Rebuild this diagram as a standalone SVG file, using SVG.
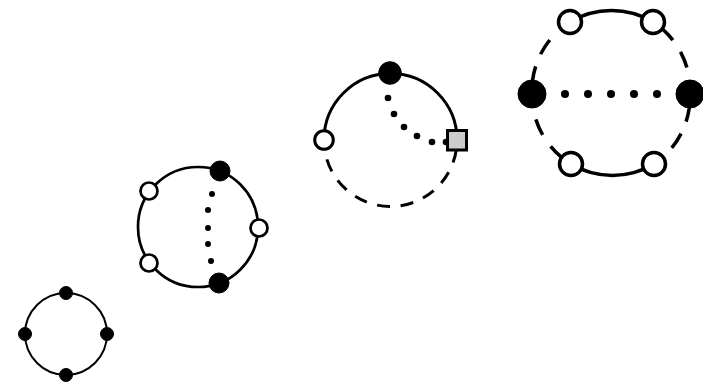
<svg xmlns="http://www.w3.org/2000/svg" width="703" height="386" viewBox="0 0 703 386">
<style>
.bg{fill:#fff}
.ln{fill:none;stroke:#000}
.filled{fill:#000;stroke:#000}
.open{fill:#fff;stroke:#000}
.sq{fill:#ccc;stroke:#000}
.dot{fill:#000}
</style>
<rect class="bg" x="0" y="0" width="703" height="386"/>
<g id="connectors">
  <circle class="ln" cx="66" cy="334" r="41" stroke-width="2"/>
  <circle class="ln" cx="198" cy="227" r="60" stroke-width="2.7"/>
  <g class="dot">
    <circle cx="212" cy="194" r="3"/><circle cx="208" cy="210" r="3"/><circle cx="208" cy="228" r="3"/><circle cx="208" cy="244" r="3"/><circle cx="211" cy="261" r="3"/>
  </g>
  <path class="ln" d="M324,140 A66.5,66.5 0 0 1 457,140" stroke-width="3"/>
  <path class="ln" d="M457,140 A66.5,66.5 0 0 1 324,140" stroke-width="3" stroke-dasharray="13 10.7" stroke-dashoffset="13.7"/>
  <g class="dot">
    <circle cx="388" cy="98" r="3.3"/><circle cx="394" cy="114" r="3.3"/><circle cx="404" cy="127" r="3.3"/><circle cx="417" cy="136" r="3.3"/><circle cx="432" cy="142" r="3.3"/><circle cx="446" cy="142" r="3.3"/>
  </g>
  <path class="ln" d="M570,22 A81,81 0 0 1 653,22" stroke-width="3.5"/>
  <path class="ln" d="M654,164 A81,81 0 0 1 571,164" stroke-width="3.5"/>
  <path class="ln" d="M653,22 A81,81 0 0 1 690,94" stroke-width="3.5" stroke-dasharray="27 14 17 200"/>
  <path class="ln" d="M690,94 A81,81 0 0 1 654,164" stroke-width="3.5" stroke-dasharray="28 13 17 200"/>
  <path class="ln" d="M571,164 A81,81 0 0 1 532,94" stroke-width="3.5" stroke-dasharray="27 14 17 200"/>
  <path class="ln" d="M532,94 A81,81 0 0 1 570,22" stroke-width="3.5" stroke-dasharray="28 13 17 200"/>
  <g class="dot">
    <circle cx="565" cy="94" r="4"/><circle cx="588" cy="94" r="4"/><circle cx="611" cy="94" r="4"/><circle cx="634" cy="94" r="4"/><circle cx="657" cy="94" r="4"/>
  </g>
</g>
<g id="n1a"><circle class="filled" cx="66" cy="293" r="6.5"/></g>
<g id="n1b"><circle class="filled" cx="107" cy="334" r="6.5"/></g>
<g id="n1c"><circle class="filled" cx="66" cy="375" r="6.5"/></g>
<g id="n1d"><circle class="filled" cx="25" cy="334" r="6.5"/></g>
<g id="n2a"><circle class="filled" cx="220" cy="171" r="10"/></g>
<g id="n2b"><circle class="filled" cx="219" cy="283" r="10"/></g>
<g id="n2c"><circle class="open" cx="149" cy="191" r="8.5" stroke-width="2.7"/></g>
<g id="n2d"><circle class="open" cx="149" cy="263" r="8.5" stroke-width="2.7"/></g>
<g id="n2e"><circle class="open" cx="259" cy="228" r="8.5" stroke-width="2.7"/></g>
<g id="n3a"><circle class="filled" cx="390" cy="73" r="11.3"/></g>
<g id="n3b"><circle class="open" cx="324" cy="140" r="9.3" stroke-width="3"/></g>
<g id="n3c"><rect class="sq" x="447.5" y="130.5" width="19" height="19.5" stroke-width="3"/></g>
<g id="n4a"><circle class="open" cx="570" cy="22" r="11.5" stroke-width="3.5"/></g>
<g id="n4b"><circle class="open" cx="653" cy="22" r="11.5" stroke-width="3.5"/></g>
<g id="n4c"><circle class="open" cx="571" cy="164" r="11.5" stroke-width="3.5"/></g>
<g id="n4d"><circle class="open" cx="654" cy="164" r="11.5" stroke-width="3.5"/></g>
<g id="n4e"><circle class="filled" cx="532" cy="94" r="14"/></g>
<g id="n4f"><circle class="filled" cx="690" cy="94" r="14"/></g>
</svg>
